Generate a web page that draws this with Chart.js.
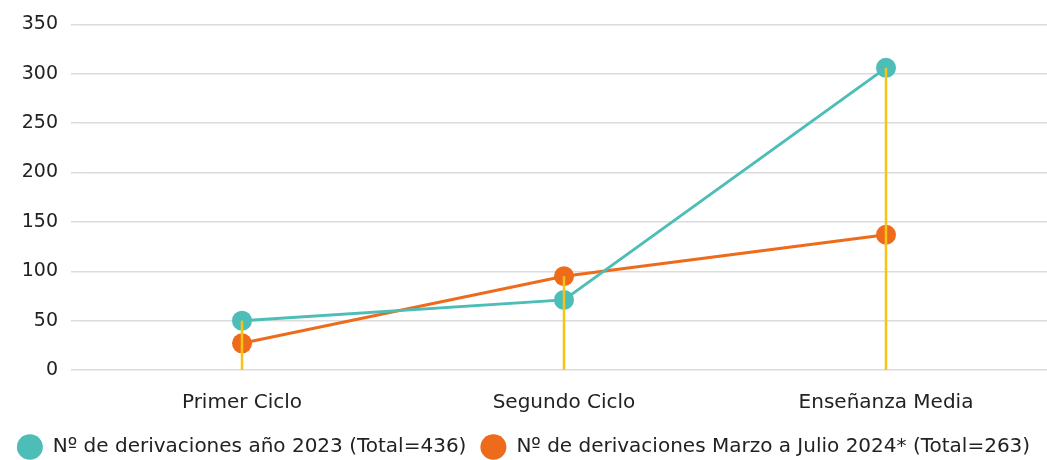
<!DOCTYPE html>
<html>
<head>
<meta charset="utf-8">
<script src="https://cdn.jsdelivr.net/npm/chart.js@4"></script>
<style>
  body { margin: 0; background: #fff; }
  #wrap { width: 1047px; height: 460px; }
</style>
</head>
<body>
<div id="wrap"><canvas id="chart"></canvas></div>
<script>
const categories = ['Primer Ciclo', 'Segundo Ciclo', 'Enseñanza Media'];
const values2023 = [50, 71, 306];
const values2024 = [27, 95, 137];
const yTicks = [0, 50, 100, 150, 200, 250, 300, 350];

// lineas verticales amarillas desde el punto mas alto hasta 0
const dropLines = {
  id: 'dropLines',
  afterDatasetsDraw(chart) {
    const ctx = chart.ctx;
    const x = chart.scales.x;
    const y = chart.scales.y;
    ctx.save();
    ctx.strokeStyle = '#f7c413';
    ctx.lineWidth = 2.5;
    categories.forEach((c, i) => {
      const top = Math.max(values2023[i], values2024[i]);
      const px = x.getPixelForValue(i);
      ctx.beginPath();
      ctx.moveTo(px, y.getPixelForValue(top));
      ctx.lineTo(px, y.getPixelForValue(0));
      ctx.stroke();
    });
    ctx.restore();
  }
};

const font = "'DejaVu Sans', sans-serif";

new Chart(document.getElementById('chart'), {
  type: 'line',
  data: {
    labels: categories,
    datasets: [
      {
        label: 'Nº de derivaciones año 2023 (Total=436)',
        data: values2023,
        borderColor: '#4dbdb7',
        backgroundColor: '#4dbdb7',
        borderWidth: 3,
        pointRadius: 10,
        pointHoverRadius: 10,
        pointBorderWidth: 0,
        tension: 0
      },
      {
        label: 'Nº de derivaciones Marzo a Julio 2024* (Total=263)',
        data: values2024,
        borderColor: '#ee6b1b',
        backgroundColor: '#ee6b1b',
        borderWidth: 3,
        pointRadius: 10,
        pointHoverRadius: 10,
        pointBorderWidth: 0,
        tension: 0
      }
    ]
  },
  options: {
    responsive: true,
    maintainAspectRatio: false,
    animation: false,
    layout: { autoPadding: false, padding: { left: 0, right: 0, top: 17, bottom: -7 } },
    scales: {
      x: {
        offset: true,
        grid: { display: false },
        border: { display: false },
        ticks: { color: '#222', font: { family: font, size: 20 }, padding: 13 },
        afterFit(axis) { axis.height = 53; }
      },
      y: {
        min: 0,
        max: 350,
        afterBuildTicks(axis) { axis.ticks = yTicks.map(v => ({ value: v })); },
        afterFit(axis) { axis.width = 81; },
        grid: { color: '#dcdcdc', lineWidth: 1.5, tickLength: 10 },
        border: { display: false },
        ticks: { color: '#222', font: { family: font, size: 19 }, padding: 13 }
      }
    },
    plugins: {
      legend: {
        position: 'bottom',
        labels: {
          usePointStyle: true,
          pointStyle: 'circle',
          pointStyleWidth: 26,
          boxHeight: 18,
          padding: 14,
          color: '#222',
          font: { family: font, size: 20 }
        }
      },
      tooltip: { enabled: false }
    }
  },
  plugins: [dropLines]
});
</script>
</body>
</html>
